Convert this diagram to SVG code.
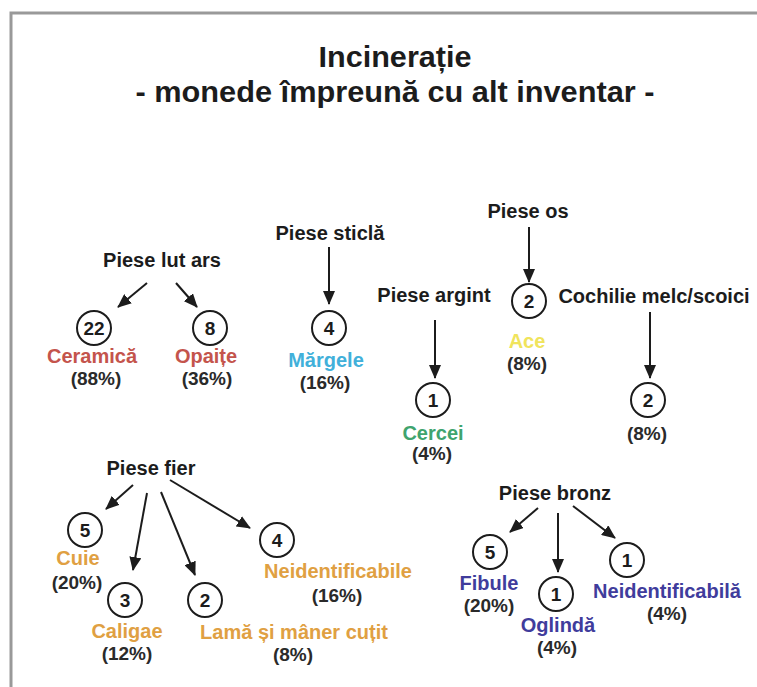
<svg xmlns="http://www.w3.org/2000/svg" width="757" height="687" viewBox="0 0 757 687">
<style>
text{font-family:"Liberation Sans",Arial,sans-serif;text-anchor:middle;fill:#1c1c1c}
.t{font-size:29px;font-weight:bold}
.h{font-size:20px;font-weight:bold}
.n{font-size:19px;font-weight:bold}
.l{font-size:20px;font-weight:bold}
.p{font-size:19px;font-weight:bold;fill:#2a2a2a}
circle{fill:#fff;stroke:#1c1c1c;stroke-width:2}
.red{fill:#c4544c}.cyan{fill:#41b0da}.yel{fill:#f0e45c}.grn{fill:#3fa46e}.org{fill:#e0a042}.pur{fill:#403c9c}
#connectors line{stroke:#1c1c1c;stroke-width:2;marker-end:url(#ah)}
</style>
<defs>
<marker id="ah" markerUnits="userSpaceOnUse" markerWidth="14" markerHeight="12" refX="13" refY="6" orient="auto">
<path d="M0,0 L14,6 L0,12 z" fill="#1c1c1c"/>
</marker>
</defs>
<rect x="0" y="0" width="757" height="687" fill="#fff"/>
<path d="M11,687 V13 H757" fill="none" stroke="#999" stroke-width="3"/>
<g id="title">
<text class="t" x="395" y="67" textLength="153" lengthAdjust="spacingAndGlyphs">Incinerație</text>
<text class="t" x="395" y="102" textLength="519" lengthAdjust="spacingAndGlyphs">- monede împreună cu alt inventar -</text>
</g>
<g id="connectors">
<line x1="147" y1="283" x2="118" y2="307"/>
<line x1="176" y1="283" x2="197" y2="307"/>
<line x1="329" y1="247" x2="329" y2="304"/>
<line x1="529" y1="227" x2="529" y2="282"/>
<line x1="435" y1="320" x2="435" y2="378"/>
<line x1="650" y1="312" x2="650" y2="378"/>
<line x1="133" y1="485" x2="106" y2="509"/>
<line x1="147" y1="493" x2="133" y2="570"/>
<line x1="161" y1="492" x2="195" y2="575"/>
<line x1="170" y1="480" x2="250" y2="528"/>
<line x1="538" y1="508" x2="510" y2="532"/>
<line x1="558" y1="513" x2="558" y2="572"/>
<line x1="573" y1="506" x2="615" y2="538"/>
</g>
<g id="piese-lut-ars"><text class="h" x="162" y="267">Piese lut ars</text></g>
<g id="ceramica"><circle cx="94" cy="328" r="17"/><text class="n" x="94" y="335">22</text><text class="l red" x="92" y="363">Ceramică</text><text class="p" x="96" y="385">(88%)</text></g>
<g id="opaite"><circle cx="210" cy="328" r="17"/><text class="n" x="210" y="335">8</text><text class="l red" x="206" y="363">Opaițe</text><text class="p" x="207" y="385">(36%)</text></g>
<g id="piese-sticla"><text class="h" x="330" y="240">Piese sticlă</text></g>
<g id="margele"><circle cx="329" cy="328" r="17"/><text class="n" x="329" y="335">4</text><text class="l cyan" x="326" y="367">Mărgele</text><text class="p" x="325" y="389">(16%)</text></g>
<g id="piese-os"><text class="h" x="528" y="218">Piese os</text></g>
<g id="ace"><circle cx="529" cy="301" r="17"/><text class="n" x="529" y="308">2</text><text class="l yel" x="527" y="348">Ace</text><text class="p" x="527" y="370">(8%)</text></g>
<g id="piese-argint"><text class="h" x="434" y="302">Piese argint</text></g>
<g id="cercei"><circle cx="433" cy="400" r="17"/><text class="n" x="433" y="407">1</text><text class="l grn" x="433" y="440">Cercei</text><text class="p" x="432" y="460">(4%)</text></g>
<g id="cochilie"><text class="h" x="654" y="303">Cochilie melc/scoici</text></g>
<g id="cochilie-n"><circle cx="648" cy="400" r="17"/><text class="n" x="648" y="407">2</text><text class="p" x="647" y="440">(8%)</text></g>
<g id="piese-fier"><text class="h" x="151" y="475">Piese fier</text></g>
<g id="cuie"><circle cx="85" cy="530" r="17"/><text class="n" x="85" y="537">5</text><text class="l org" x="78" y="565">Cuie</text><text class="p" x="77" y="589">(20%)</text></g>
<g id="caligae"><circle cx="125" cy="600" r="17"/><text class="n" x="125" y="607">3</text><text class="l org" x="127" y="638">Caligae</text><text class="p" x="127" y="660">(12%)</text></g>
<g id="lama"><circle cx="205" cy="600" r="17"/><text class="n" x="205" y="607">2</text><text class="l org" x="294" y="639">Lamă și mâner cuțit</text><text class="p" x="293" y="661">(8%)</text></g>
<g id="neid-fier"><circle cx="277" cy="540" r="17"/><text class="n" x="277" y="547">4</text><text class="l org" x="338" y="578">Neidentificabile</text><text class="p" x="337" y="602">(16%)</text></g>
<g id="piese-bronz"><text class="h" x="555" y="500">Piese bronz</text></g>
<g id="fibule"><circle cx="490" cy="552" r="17"/><text class="n" x="490" y="559">5</text><text class="l pur" x="489" y="590">Fibule</text><text class="p" x="489" y="612">(20%)</text></g>
<g id="oglinda"><circle cx="556" cy="594" r="17"/><text class="n" x="556" y="601">1</text><text class="l pur" x="558" y="632">Oglindă</text><text class="p" x="557" y="654">(4%)</text></g>
<g id="neid-bronz"><circle cx="627" cy="560" r="17"/><text class="n" x="627" y="567">1</text><text class="l pur" x="667" y="598">Neidentificabilă</text><text class="p" x="667" y="620">(4%)</text></g>
</svg>
